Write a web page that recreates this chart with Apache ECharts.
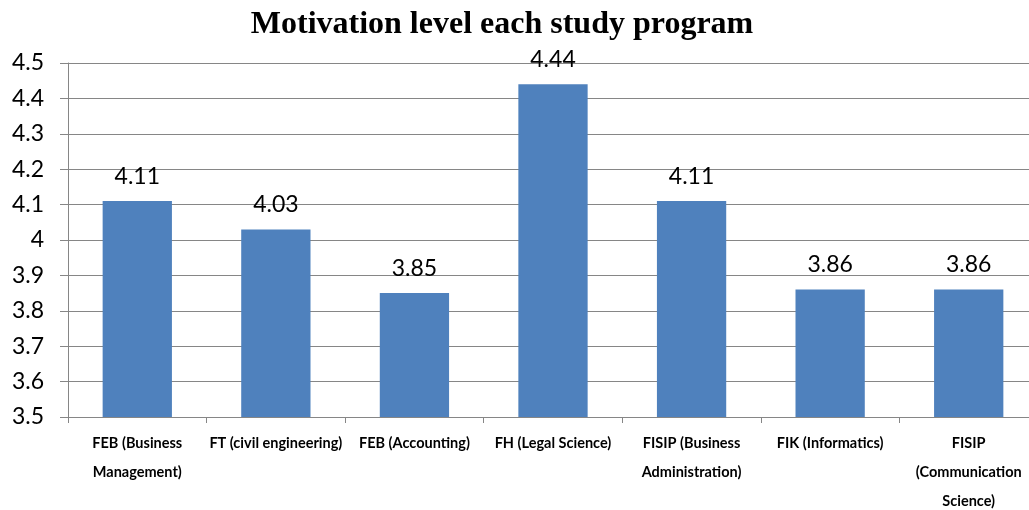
<!DOCTYPE html>
<html>
<head>
<meta charset="utf-8">
<script src="https://cdn.jsdelivr.net/npm/echarts@6/dist/echarts.min.js"></script>
<style>
	html, body { margin: 0; padding: 0; background: #fff; }
	#chart { width: 1029px; height: 510px; }
</style>
</head>
<body>
<div id="chart"></div>
<script>
var programs = [
	'FEB (Business\nManagement)',
	'FT (civil engineering)',
	'FEB (Accounting)',
	'FH (Legal Science)',
	'FISIP (Business\nAdministration)',
	'FIK (Informatics)',
	'FISIP\n(Communication\nScience)'
];
var motivation = [4.11, 4.03, 3.85, 4.44, 4.11, 3.86, 3.86];

var chart = echarts.init(document.getElementById('chart'));
var option = {
	animation: false,
	title: {
		text: 'Motivation level each study program',
		left: 497,
		textAlign: 'center',
		top: 4,
		textStyle: {
			fontFamily: 'Liberation Serif',
			fontWeight: 'bold',
			fontSize: 32,
			color: '#000'
		}
	},
	grid: {
		left: 68,
		top: 63,
		width: 970,
		height: 354,
		outerBoundsMode: 'none',
		containLabel: false
	},
	xAxis: {
		type: 'category',
		data: programs,
		axisLine: { lineStyle: { color: '#868686', width: 1 } },
		axisTick: { show: true, length: 6, lineStyle: { color: '#868686' } },
		axisLabel: {
			interval: 0,
			margin: 12,
			fontFamily: 'Lato',
			fontWeight: 'bold',
			fontSize: 14.5,
			lineHeight: 29,
			color: '#000'
		}
	},
	yAxis: {
		type: 'value',
		min: 3.5,
		max: 4.5,
		interval: 0.1,
		axisLine: { show: true, lineStyle: { color: '#868686', width: 1 } },
		axisTick: { show: true, length: 8, lineStyle: { color: '#868686' } },
		splitLine: { lineStyle: { color: '#868686', width: 1 } },
		axisLabel: {
			margin: 24,
			fontFamily: 'Lato',
			fontSize: 23,
			color: '#000',
			formatter: function (v) { return String(Math.round(v * 10) / 10); }
		}
	},
	series: [{
		type: 'bar',
		data: motivation,
		barWidth: '50%',
		itemStyle: { color: '#4F81BD' },
		label: {
			show: true,
			position: 'top',
			distance: 13,
			fontFamily: 'Lato',
			fontSize: 23,
			color: '#000',
			formatter: function (p) { return p.value.toFixed(2); }
		}
	}]
};
chart.setOption(option);
</script>
</body>
</html>
